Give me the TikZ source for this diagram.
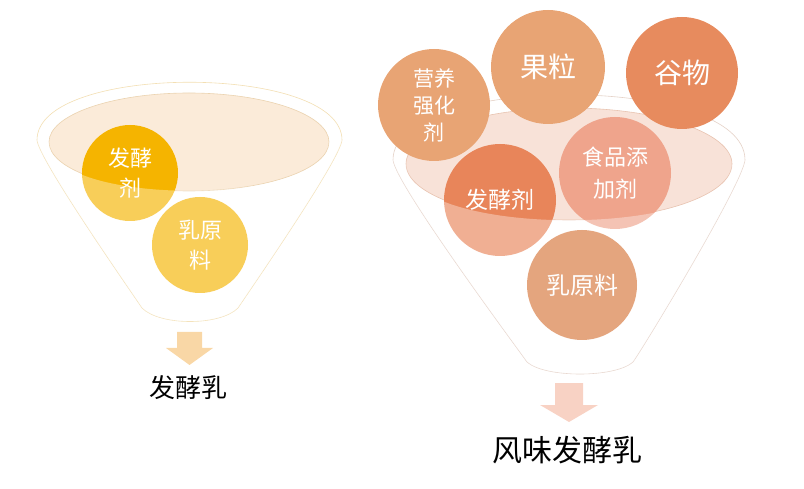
\documentclass[tikz,border=0pt]{standalone}
\usepackage{fontspec}
\setmainfont{Noto Sans CJK SC}
\usepackage{tikz}
\usetikzlibrary{shapes.geometric}

\definecolor{yelBall}{HTML}{F5B400}
\definecolor{yelRim}{HTML}{F3DFB3}
\definecolor{yelMouth}{HTML}{FBEBD9}
\definecolor{yelMouthLine}{HTML}{EBD3B0}
\definecolor{yelArrow}{HTML}{F9D7A6}
\definecolor{ornRim}{HTML}{E5D2C8}
\definecolor{ornMouth}{HTML}{F8E2D8}
\definecolor{ornMouthLine}{HTML}{E8C3B0}
\definecolor{ornArrow}{HTML}{F8D2C4}
\definecolor{ornLight}{HTML}{E8A474}
\definecolor{ornDeep}{HTML}{E78B5E}
\definecolor{ornFa}{HTML}{E8855A}
\definecolor{ornPink}{HTML}{EFA48C}
\definecolor{ornRu}{HTML}{D7763A}

\begin{document}
\begin{tikzpicture}[x=1pt,y=-1pt,
    ball/.style={shape=circle,draw=none,text=white,inner sep=0pt,align=center},
    mouth/.style={line width=0.6pt},
    rim/.style={line width=0.6pt,fill=white},
    wash/.style={fill=white,fill opacity=0.35},
    result/.style={text=black,inner sep=0pt}]

  \useasboundingbox (0,0) rectangle (804,489);

  % left funnel
  \draw[rim,draw=yelRim] (37,140) .. controls (37,63) and (342,63) .. (342,140)
        .. controls (340,160) and (250,290) .. (238,308)
        .. controls (220,326) and (160,326) .. (142,308)
        .. controls (130,290) and (39,160) .. cycle;
  \draw[mouth,draw=yelMouthLine,fill=yelMouth] (189,142) ellipse [x radius=140,y radius=49];

  \node[ball,fill=yelBall,minimum size=96pt,font=\fontsize{22}{30}\selectfont] (jiaoL) at (130,173) {发酵\\剂};
  \node[ball,fill=yelBall,minimum size=96pt,font=\fontsize{22}{30}\selectfont] (ruL) at (200,245) {乳原\\料};

  \fill[wash] (37,140) .. controls (39,160) and (130,290) .. (142,308)
        .. controls (160,326) and (220,326) .. (238,308)
        .. controls (250,290) and (340,160) .. (342,140)
        -- (329,142) .. controls (329,207) and (49,207) .. (49,142) -- cycle;

  \fill[yelArrow] (177,332) -- (202,332) -- (202,348) -- (213,348) -- (189.5,365)
        -- (166,348) -- (177,348) -- cycle;
  \node[result,font=\fontsize{26}{30}\selectfont] (outL) at (188,388) {发酵乳};

  % right funnel
  \draw[rim,draw=ornRim] (393,160) .. controls (393,73) and (745,73) .. (745,160)
        .. controls (742,185) and (645,345) .. (633,362)
        .. controls (615,378) and (545,378) .. (527,362)
        .. controls (515,345) and (396,185) .. cycle;
  \draw[mouth,draw=ornMouthLine,fill=ornMouth] (569,164) ellipse [x radius=163,y radius=56];

  \node[ball,fill=ornLight,minimum size=112pt,font=\fontsize{21}{27}\selectfont] (ying) at (434,105) {营养\\强化\\剂};
  \node[ball,fill=ornLight,minimum size=114pt,font=\fontsize{28}{32}\selectfont] (guo) at (548,67) {果粒};
  \node[ball,fill=ornDeep,minimum size=112pt,font=\fontsize{28}{32}\selectfont] (gu) at (682,73) {谷物};
  \node[ball,fill=ornPink,minimum size=112pt,font=\fontsize{22}{32}\selectfont] (shi) at (615,173) {食品添\\加剂};
  \node[ball,fill=ornFa,minimum size=112pt,font=\fontsize{23}{30}\selectfont] (jiaoR) at (500,200) {发酵剂};
  \node[ball,fill=ornRu,minimum size=110pt,font=\fontsize{24}{30}\selectfont] (ruR) at (582,285) {乳原料};

  \fill[wash] (393,160) .. controls (396,185) and (515,345) .. (527,362)
        .. controls (545,378) and (615,378) .. (633,362)
        .. controls (645,345) and (742,185) .. (745,160)
        -- (732,164) .. controls (732,239) and (406,239) .. (406,164) -- cycle;

  \fill[ornArrow] (555,383) -- (583,383) -- (583,405) -- (598,405) -- (569,422)
        -- (540,405) -- (555,405) -- cycle;
  \node[result,font=\fontsize{30}{34}\selectfont] (outR) at (567,450) {风味发酵乳};
\end{tikzpicture}
\end{document}
